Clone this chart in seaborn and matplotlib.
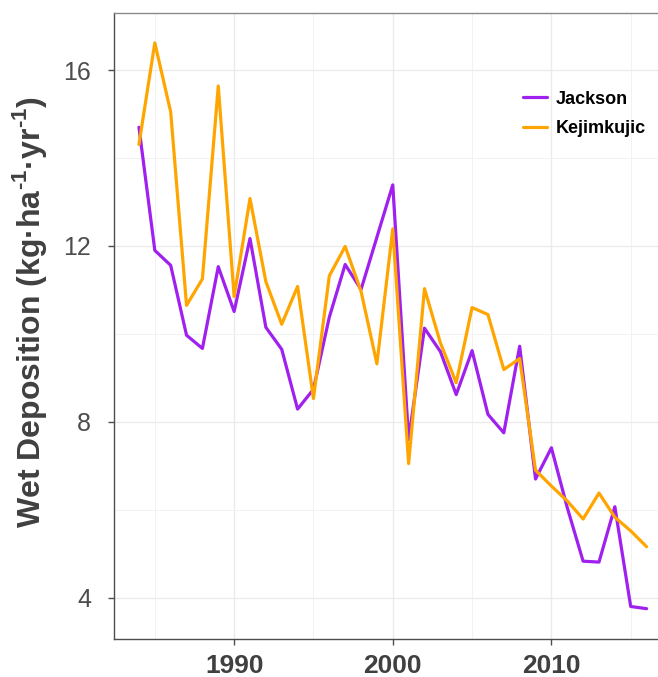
import numpy as np
import pandas as pd
import matplotlib
matplotlib.use("Agg")
import matplotlib.pyplot as plt
import seaborn as sns
from matplotlib.ticker import MultipleLocator

years = list(range(1984, 2017))
jackson = [14.7, 11.9, 11.56, 9.97, 9.67, 11.53, 10.51, 12.17, 10.15, 9.65,
           8.29, 8.74, 10.38, 11.58, 11.01, 12.2, 13.39, 7.6, 10.13, 9.6,
           8.62, 9.62, 8.17, 7.75, 9.72, 6.70, 7.41, 6.05, 4.83, 4.81,
           6.07, 3.8, 3.75]
kejimkujic = [14.31, 16.62, 15.05, 10.65, 11.25, 15.64, 10.85, 13.08, 11.19, 10.22,
              11.08, 8.53, 11.32, 11.99, 10.97, 9.32, 12.39, 7.05, 11.03, 9.8,
              8.89, 10.6, 10.44, 9.19, 9.44, 6.9, 6.54, 6.2, 5.79, 6.38,
              5.83, 5.52, 5.16]
sites = ["Jackson", "Kejimkujic"]
colors = ["#A020F0", "#FFA500"]
x_ticks = [1990, 2000, 2010]
y_ticks = [4, 8, 12, 16]

df = pd.DataFrame({
    "Year": years * 2,
    "Deposition": jackson + kejimkujic,
    "Site": [sites[0]] * len(years) + [sites[1]] * len(years),
})

sns.set_theme(style="white")
plt.rcParams["font.family"] = ["Liberation Sans", "DejaVu Sans"]
plt.rcParams["mathtext.fontset"] = "custom"
plt.rcParams["mathtext.rm"] = "Liberation Sans:bold"
plt.rcParams["mathtext.bf"] = "Liberation Sans:bold"

fig = plt.figure(figsize=(6.58, 6.77), dpi=100)
ax = fig.add_axes([0.1726, 0.0561, 0.8486, 0.9247])

sns.lineplot(data=df, x="Year", y="Deposition", hue="Site", hue_order=sites,
             palette=colors, linewidth=2.3, ax=ax, legend=True)

ax.set_xlim(1982.4, 2017.6)
ax.set_ylim(3.06, 17.3)
ax.set_xticks(x_ticks)
ax.set_yticks(y_ticks)
ax.xaxis.set_minor_locator(MultipleLocator(5))
ax.yaxis.set_minor_locator(MultipleLocator(2))
ax.grid(True, which="major", color="#ebebeb", linewidth=1.0)
ax.grid(True, which="minor", color="#f2f2f2", linewidth=0.7)
ax.set_axisbelow(True)

ax.tick_params(axis="both", which="major", direction="out", length=4.3, width=1,
               color="#4d4d4d", left=True, bottom=True)
ax.tick_params(axis="both", which="minor", length=0)
ax.tick_params(axis="y", labelsize=18, labelcolor="#4d4d4d", pad=12)
ax.tick_params(axis="x", labelsize=19, labelcolor="#404040", pad=6.5)
for lab in ax.get_xticklabels():
    lab.set_fontweight("bold")

ax.set_xlabel("")
ax.set_ylabel(r"Wet Deposition (kg·ha$^{\text{-1}}$·yr$^{\text{-1}}$)",
              fontsize=23, fontweight="bold", color="#404040")
ax.yaxis.set_label_coords(-0.1157, 0.522)

for s in ["left", "bottom"]:
    ax.spines[s].set_color("#4d4d4d")
    ax.spines[s].set_linewidth(1.0)
ax.spines["top"].set_color("#8a8a8a")
ax.spines["top"].set_linewidth(1.0)
ax.spines["right"].set_visible(False)

leg = ax.legend(loc="upper left", bbox_to_anchor=(0.705, 0.902), frameon=False,
                fontsize=13, handlelength=1.3, handletextpad=0.5, labelspacing=0.7,
                title=None)
for t in leg.get_texts():
    t.set_fontweight("bold")
    t.set_color("black")

fig.savefig("out.png", dpi=100)
